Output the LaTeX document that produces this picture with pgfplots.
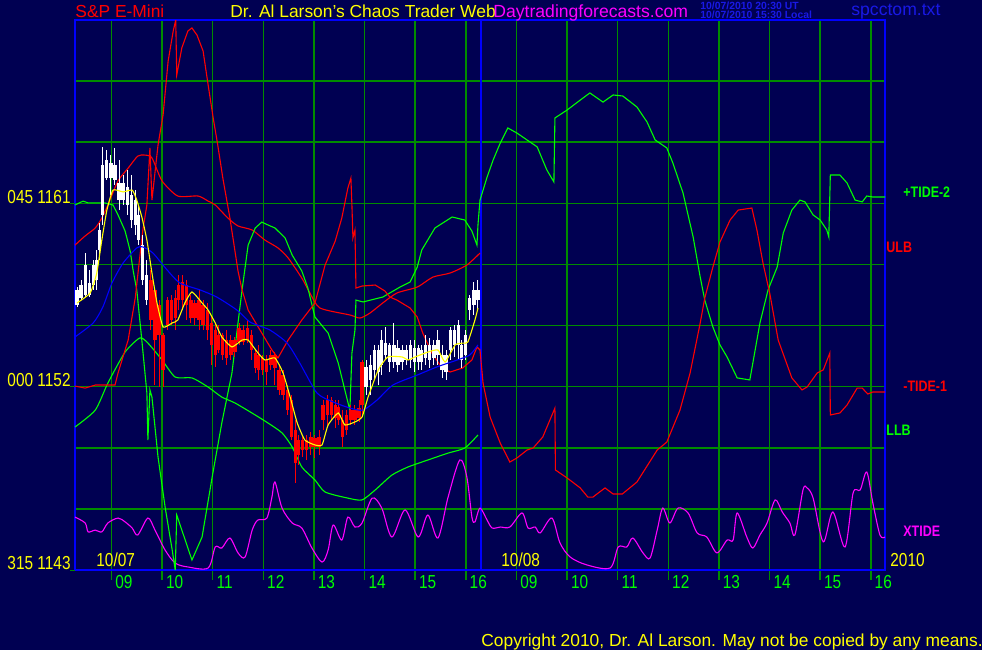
\documentclass[border=0pt]{standalone}
\usepackage{pgfplots}
\pgfplotsset{compat=1.18}
\usepackage{pgfplotstable}
\usepackage{fontspec}
\setmainfont{Liberation Sans}
\newfontfamily\cond[FakeStretch=0.82]{Liberation Sans}

\definecolor{bg}{RGB}{0,0,82}
\definecolor{gridg}{RGB}{0,140,0}
\definecolor{lime}{RGB}{0,255,0}
\definecolor{bblue}{RGB}{0,0,255}
\definecolor{tblue}{RGB}{25,25,230}
\definecolor{mag}{RGB}{255,0,255}
\definecolor{yel}{RGB}{255,255,0}
\definecolor{rd}{RGB}{255,0,0}

% x = hours since session start (day 1: 0-8, day 2: 8-16), y = price
\pgfplotstableread{
x lo hi blo bhi
0.04 1155.91 1156.89 1156.01 1156.75
0.12 1156.26 1157.24 1156.35 1156.99
0.20 1156.40 1158.56 1156.50 1157.97
0.28 1156.40 1157.73 1156.50 1157.09
0.36 1156.75 1158.22 1156.99 1157.97
0.43 1156.75 1158.71 1157.24 1158.22
0.49 1158.22 1160.04 1158.71 1159.69
0.55 1159.94 1163.77 1160.43 1162.88
0.63 1162.15 1163.62 1162.24 1163.13
0.71 1161.41 1163.37 1162.24 1162.98
0.79 1161.90 1163.72 1162.15 1162.88
0.87 1160.67 1163.13 1161.16 1162.00
0.95 1160.92 1162.39 1161.16 1162.00
1.03 1160.43 1162.64 1160.92 1161.80
1.11 1159.79 1162.39 1160.18 1161.41
1.19 1159.45 1161.66 1159.94 1161.16
1.26 1158.96 1160.92 1159.20 1160.43
1.34 1156.99 1159.45 1157.24 1158.96
1.42 1156.01 1158.22 1156.26 1157.48
5.75 1151.59 1153.31 1151.98 1152.97
5.83 1151.59 1153.55 1152.33 1153.06
5.91 1152.33 1154.05 1152.82 1153.80
5.99 1152.08 1154.05 1152.72 1153.80
6.06 1152.57 1154.78 1153.06 1154.29
6.14 1153.31 1154.93 1153.55 1154.14
6.22 1152.72 1154.14 1153.21 1154.05
6.30 1152.92 1155.13 1153.21 1154.05
6.38 1152.72 1154.29 1153.06 1153.90
6.46 1152.82 1154.05 1153.21 1153.80
6.54 1153.06 1154.05 1153.31 1153.80
6.62 1152.92 1154.29 1153.31 1154.05
6.70 1152.72 1154.29 1153.21 1153.90
6.78 1152.82 1154.05 1153.21 1153.90
6.85 1152.82 1154.05 1153.21 1153.80
6.93 1153.06 1154.54 1153.41 1154.05
7.01 1152.92 1154.39 1153.31 1154.05
7.09 1153.06 1154.29 1153.41 1154.05
7.17 1153.06 1154.78 1153.55 1154.29
7.25 1152.43 1154.05 1152.82 1153.55
7.33 1152.33 1153.80 1152.72 1153.55
7.41 1153.31 1154.93 1153.80 1154.78
7.49 1153.46 1155.03 1154.05 1154.78
7.57 1153.31 1155.27 1154.05 1155.03
7.64 1152.92 1154.29 1153.31 1154.05
7.72 1153.31 1154.78 1153.55 1154.54
7.80 1155.27 1156.50 1155.76 1156.35
7.88 1155.52 1157.14 1156.01 1156.75
7.96 1155.76 1157.24 1156.26 1156.75
}\wbars

\pgfplotstableread{
x lo hi blo bhi
1.50 1154.78 1157.73 1155.27 1157.24
1.58 1152.08 1156.75 1154.29 1156.75
1.66 1151.98 1156.26 1154.54 1156.01
1.74 1151.98 1154.64 1152.82 1154.54
1.82 1154.78 1156.40 1155.03 1156.26
1.90 1155.03 1156.50 1155.27 1156.26
1.98 1154.78 1156.75 1155.37 1156.35
2.05 1155.76 1157.48 1156.26 1156.99
2.13 1155.76 1157.48 1156.26 1157.14
2.21 1155.27 1157.24 1156.01 1156.99
2.29 1155.13 1156.50 1155.37 1156.26
2.37 1155.03 1156.26 1155.37 1156.11
2.45 1154.78 1156.75 1155.27 1156.26
2.53 1154.78 1156.26 1155.03 1156.01
2.61 1154.29 1156.11 1154.78 1155.76
2.69 1153.06 1155.52 1154.05 1155.13
2.77 1152.97 1155.13 1153.55 1154.78
2.84 1153.65 1155.03 1153.80 1154.54
2.92 1153.31 1154.64 1153.55 1154.54
3.00 1153.06 1154.78 1153.41 1154.29
3.08 1153.31 1154.54 1153.55 1154.29
3.16 1153.46 1154.44 1153.70 1154.29
3.24 1154.05 1155.13 1154.19 1154.88
3.32 1154.05 1155.03 1154.19 1154.78
3.40 1154.14 1155.27 1154.29 1154.88
3.48 1153.31 1154.78 1153.80 1154.54
3.56 1152.67 1153.80 1152.92 1153.65
3.63 1152.33 1154.05 1152.82 1153.55
3.71 1152.57 1153.55 1152.82 1153.41
3.79 1152.08 1153.55 1152.72 1153.31
3.87 1152.82 1153.80 1153.06 1153.55
3.95 1152.08 1153.70 1152.92 1153.55
4.03 1151.59 1153.06 1151.84 1152.82
4.11 1151.35 1152.82 1151.59 1152.57
4.19 1150.61 1152.08 1150.86 1151.84
4.27 1149.38 1151.59 1149.53 1151.35
4.35 1147.27 1150.36 1148.25 1149.87
4.42 1148.16 1149.63 1148.65 1149.38
4.50 1148.55 1149.53 1148.89 1149.38
4.58 1148.40 1149.63 1148.89 1149.38
4.66 1148.65 1149.78 1149.04 1149.53
4.74 1148.50 1149.63 1149.04 1149.48
4.82 1148.65 1149.87 1149.04 1149.53
4.90 1149.87 1151.35 1150.36 1151.10
4.98 1150.12 1151.59 1150.61 1151.35
5.06 1150.36 1151.49 1150.61 1151.35
5.14 1149.97 1151.35 1150.46 1151.10
5.21 1150.12 1151.35 1150.36 1151.00
5.29 1149.04 1150.86 1149.53 1150.36
5.37 1149.63 1150.86 1149.87 1150.61
5.45 1150.12 1151.10 1150.36 1150.86
5.53 1150.12 1151.10 1150.36 1150.86
5.61 1150.27 1151.35 1150.46 1150.95
5.67 1150.51 1153.31 1151.10 1153.21
}\rbars

\begin{document}
\begin{tikzpicture}
\begin{scope}[x=0.5pt,y=-0.5pt]
  \fill[bg] (0,0) rectangle (982,650);
\end{scope}

\begin{axis}[
  at={(37.5pt,-285pt)}, anchor=south west,
  scale only axis, width=405pt, height=275pt,
  xmin=0, xmax=16, ymin=1143, ymax=1170,
  axis background/.style={fill=bg},
  axis line style={draw=bblue, line width=1pt},
  xtick={0.72,1.72,2.72,3.72,4.72,5.72,6.72,7.72,8.72,9.72,10.72,11.72,12.72,13.72,14.72,15.72},
  ytick={1146,1149,...,1167},
  xticklabels={}, yticklabels={},
  tick pos=left, tick align=outside, major tick length=5pt,
  xtick style={draw=gridg, line width=0.75pt},
  ytick style={draw=none},
  xmajorgrids=true, ymajorgrids=true,
  grid style={draw=gridg, line width=0.75pt},
  major grid style={draw=gridg, line width=0.75pt},
]
\draw[bblue, line width=1pt] (axis cs:8.02,1143) -- (axis cs:8.02,1170);

% XTIDE
\addplot[mag, line width=0.55pt, smooth, tension=0.5] coordinates {
(0,1145.60) (0.20,1145.31) (0.26,1144.87) (0.40,1144.96) (0.53,1144.87) (0.65,1145.31)
(0.85,1145.55) (0.99,1145.36) (1.13,1145.06) (1.24,1144.72) (1.44,1145.55) (1.58,1144.96)
(1.78,1143.98) (1.98,1143.34) (2.23,1143.15) (2.63,1143.10) (2.77,1144.13) (2.90,1144.08)
(3.06,1144.57) (3.22,1143.84) (3.36,1143.64) (3.50,1144.96) (3.61,1145.45) (3.79,1145.55)
(3.89,1146.58) (3.95,1147.32) (4.09,1146.04) (4.29,1145.31) (4.48,1145.06) (4.68,1144.08)
(4.88,1143.39) (5.00,1143.98) (5.10,1145.21) (5.27,1144.47) (5.39,1145.60) (5.53,1145.11)
(5.67,1145.31) (5.87,1146.53) (6.06,1146.04) (6.26,1144.62) (6.52,1145.95) (6.78,1144.62)
(6.97,1145.70) (7.17,1144.57) (7.37,1146.58) (7.60,1148.40) (7.74,1147.57) (7.84,1145.60)
(7.90,1145.36) (8.00,1146.04) (8.14,1145.45) (8.24,1145.06) (8.40,1145.11) (8.59,1145.11)
(8.83,1145.80) (8.95,1145.06) (9.09,1145.11) (9.19,1144.82) (9.42,1145.55) (9.58,1144.33)
(9.78,1143.64) (10.11,1143.25) (10.57,1143.10) (10.73,1144.13) (10.90,1144.13) (11.02,1144.57)
(11.22,1143.84) (11.36,1143.59) (11.50,1144.96) (11.61,1146.04) (11.75,1145.31) (11.91,1146.04)
(12.11,1145.80) (12.29,1144.82) (12.48,1144.62) (12.68,1143.84) (12.88,1144.47) (13.00,1144.47)
(13.08,1145.80) (13.27,1144.62) (13.39,1144.08) (13.53,1144.72) (13.67,1145.31) (13.83,1146.44)
(13.97,1145.85) (14.12,1145.31) (14.22,1144.72) (14.38,1146.93) (14.46,1147.03) (14.58,1146.53)
(14.78,1144.38) (14.97,1145.85) (15.21,1144.13) (15.37,1146.78) (15.51,1146.93) (15.64,1147.81)
(15.76,1146.29) (15.90,1144.72) (16.00,1144.62)};

% LLB
\addplot[lime, line width=0.55pt, smooth, tension=0.4] coordinates {
(0,1150.02) (0.40,1150.85) (0.65,1152.18) (0.99,1153.70) (1.28,1154.39) (1.44,1154.14)
(1.72,1153.31) (1.98,1152.47) (2.31,1152.43) (2.63,1151.98) (2.90,1151.49) (3.16,1151.20)
(3.56,1150.61) (3.81,1150.22) (4.09,1149.73) (4.29,1149.04) (4.48,1148.06) (4.74,1147.42)
(4.94,1146.83) (5.39,1146.53) (5.67,1146.44) (5.93,1146.93) (6.26,1147.66) (6.58,1148.06)
(6.97,1148.40) (7.37,1148.74) (7.70,1148.99) (7.96,1149.63)};

% ULB
\addplot[rd, line width=0.55pt, smooth, tension=0.4] coordinates {
(0,1158.95) (0.20,1159.40) (0.40,1159.79) (0.53,1160.28) (0.65,1160.92) (0.85,1162.10)
(1.05,1162.73) (1.24,1163.32) (1.38,1163.37) (1.52,1163.23) (1.72,1162.10) (2.03,1161.36)
(2.43,1161.36) (2.63,1161.11) (2.77,1160.92) (3.02,1160.28) (3.22,1159.89) (3.50,1159.69)
(3.75,1159.20) (4.01,1158.81) (4.21,1158.32) (4.48,1157.33) (4.64,1156.60) (4.84,1155.86)
(5.43,1155.52) (5.63,1155.37) (5.83,1155.62) (6.08,1156.11) (6.36,1156.60) (6.76,1156.89)
(7.07,1157.38) (7.41,1157.58) (7.74,1157.97) (8.00,1158.56)};

% +TIDE-2
\addplot[lime, line width=0.55pt] coordinates {
(0,1160.92) (0.16,1161.11) (0.26,1161.02) (0.59,1161.02) (0.75,1160.92) (0.85,1160.43)
(0.99,1159.64) (1.09,1158.66) (1.15,1157.68) (1.22,1156.75) (1.32,1154.29) (1.42,1151.69)
(1.44,1149.38) (1.48,1151.84) (1.52,1151.49) (1.64,1148.55) (1.78,1146.09) (1.92,1143.98)
(1.98,1143.00) (2.01,1145.70) (2.31,1143.49) (2.51,1144.62) (2.71,1147.57) (2.90,1150.22)
(3.10,1152.67) (3.22,1155.13) (3.30,1156.75) (3.42,1158.95) (3.56,1159.79) (3.69,1160.08)
(3.81,1159.94) (3.95,1159.79) (4.15,1159.30) (4.29,1158.46) (4.48,1157.68) (4.60,1156.84)
(4.74,1155.42) (5.00,1154.63) (5.20,1153.16) (5.33,1151.84) (5.43,1150.85) (5.47,1153.65)
(5.53,1154.78) (5.55,1156.25) (5.69,1156.16) (6.08,1156.40) (6.42,1156.89) (6.62,1157.14)
(6.76,1157.87) (6.85,1158.71) (7.11,1159.79) (7.45,1160.33) (7.70,1160.18) (7.84,1159.64)
(7.94,1158.95) (7.96,1159.94) (8.00,1161.16) (8.14,1162.29) (8.26,1163.13) (8.40,1163.96)
(8.55,1164.70) (8.73,1164.45) (8.93,1164.11) (9.13,1163.77) (9.32,1162.64) (9.46,1162.05)
(9.48,1165.19) (9.72,1165.58) (9.98,1166.07) (10.17,1166.42) (10.43,1165.97) (10.63,1166.32)
(10.82,1166.27) (11.10,1165.73) (11.30,1164.99) (11.46,1164.11) (11.69,1163.72) (11.81,1162.98)
(12.01,1161.51) (12.21,1159.35) (12.35,1157.38) (12.44,1156.25) (12.60,1154.93) (12.74,1154.05)
(12.88,1153.46) (13.08,1152.43) (13.33,1152.33) (13.53,1155.13) (13.69,1156.75) (13.87,1157.87)
(13.99,1159.54) (14.16,1160.67) (14.32,1161.16) (14.42,1161.07) (14.58,1160.43) (14.72,1160.18)
(14.85,1159.69) (14.89,1159.35) (14.92,1162.39) (15.11,1162.39) (15.25,1162.00) (15.41,1161.16)
(15.55,1161.07) (15.64,1161.36) (15.76,1161.31) (16.00,1161.31)};

% -TIDE-1
\addplot[rd, line width=0.55pt] coordinates {
(0,1152.03) (0.20,1151.93) (0.40,1152.08) (0.79,1152.08) (0.85,1152.67) (1.05,1154.29)
(1.19,1156.35) (1.28,1158.37) (1.34,1159.69) (1.42,1160.92) (1.48,1163.72) (1.52,1161.16)
(1.64,1163.86) (1.74,1165.34) (1.84,1167.99) (1.94,1169.46) (1.99,1170) (2.01,1167.30)
(2.11,1168.63) (2.23,1169.46) (2.31,1169.61) (2.41,1169.26) (2.53,1168.48) (2.63,1166.81)
(2.73,1165.19) (2.82,1163.86) (2.92,1162.24) (3.06,1160.28) (3.22,1157.68) (3.30,1156.75)
(3.42,1155.76) (3.69,1154.63) (3.89,1153.80) (4.01,1153.41) (4.21,1154.29) (4.48,1155.27)
(4.74,1156.11) (4.94,1157.97) (5.14,1159.15) (5.27,1160.28) (5.39,1161.75) (5.45,1162.24)
(5.47,1160.92) (5.49,1159.30) (5.53,1159.69) (5.55,1156.84) (5.67,1156.94) (5.93,1156.99)
(6.12,1156.70) (6.22,1156.40) (6.36,1156.25) (6.62,1155.86) (6.76,1155.42) (6.87,1154.63)
(7.05,1153.65) (7.25,1152.92) (7.41,1152.72) (7.66,1152.92) (7.84,1153.31) (7.94,1153.95)
(8.00,1153.80) (8.06,1152.18) (8.20,1150.51) (8.40,1149.23) (8.59,1148.30) (8.73,1148.50)
(8.93,1148.89) (9.05,1148.99) (9.24,1149.53) (9.48,1150.95) (9.49,1147.91) (9.72,1147.52)
(9.98,1147.03) (10.13,1146.58) (10.23,1146.58) (10.47,1147.03) (10.63,1146.73) (10.81,1146.73)
(11.10,1147.32) (11.50,1148.89) (11.69,1149.28) (11.95,1150.85) (12.15,1152.67) (12.35,1155.13)
(12.44,1156.35) (12.60,1157.87) (12.74,1159.10) (12.94,1160.18) (13.10,1160.67) (13.37,1160.77)
(13.47,1159.69) (13.59,1158.07) (13.73,1156.50) (13.89,1154.29) (14.16,1152.43) (14.36,1151.84)
(14.46,1151.98) (14.66,1152.67) (14.78,1152.82) (14.91,1153.65) (14.92,1150.61) (15.11,1150.71)
(15.25,1151.10) (15.45,1151.93) (15.55,1151.93) (15.66,1151.64) (15.76,1151.74) (16.00,1151.74)};

% price bars: wicks then bodies
\addplot[draw=none, mark=none, error bars/.cd, y dir=plus, y explicit, error mark=none,
  error bar style={draw=white, line width=0.5pt}]
  table[x=x, y=lo, y error plus expr=\thisrow{hi}-\thisrow{lo}] {\wbars};
\addplot[draw=none, mark=none, error bars/.cd, y dir=plus, y explicit, error mark=none,
  error bar style={draw=white, line width=1.6pt}]
  table[x=x, y=blo, y error plus expr=\thisrow{bhi}-\thisrow{blo}] {\wbars};
\addplot[draw=none, mark=none, error bars/.cd, y dir=plus, y explicit, error mark=none,
  error bar style={draw=rd, line width=0.5pt}]
  table[x=x, y=lo, y error plus expr=\thisrow{hi}-\thisrow{lo}] {\rbars};
\addplot[draw=none, mark=none, error bars/.cd, y dir=plus, y explicit, error mark=none,
  error bar style={draw=rd, line width=1.6pt}]
  table[x=x, y=blo, y error plus expr=\thisrow{bhi}-\thisrow{blo}] {\rbars};

% moving averages
\addplot[bblue, line width=0.55pt, smooth, tension=0.4] coordinates {
(0,1154.44) (0.36,1155.13) (0.55,1155.91) (0.73,1157.09) (0.95,1158.07) (1.22,1158.81)
(1.34,1158.86) (1.54,1158.56) (1.82,1157.73) (2.07,1157.09) (2.47,1156.75) (2.80,1156.40)
(3.20,1155.76) (3.46,1155.17) (3.85,1154.78) (4.19,1154.14) (4.44,1153.16) (4.78,1151.69)
(5.10,1151.25) (5.43,1150.95) (5.69,1150.85) (5.97,1151.35) (6.28,1152.08) (6.76,1152.57)
(7.15,1152.97) (7.55,1153.31) (7.80,1153.56) (7.96,1154.05)};

\addplot[yel, line width=0.55pt, smooth, tension=0.3] coordinates {
(0.04,1156.11) (0.30,1156.60) (0.43,1157.58) (0.53,1159.20) (0.63,1160.67) (0.75,1161.65)
(0.95,1161.56) (1.13,1161.65) (1.22,1161.16) (1.32,1160.33) (1.42,1159.20) (1.52,1157.58)
(1.62,1156.11) (1.74,1154.93) (1.92,1155.13) (2.03,1155.27) (2.17,1156.11) (2.31,1156.65)
(2.51,1156.11) (2.63,1155.76) (2.77,1155.13) (2.90,1154.44) (3.10,1153.95) (3.30,1154.29)
(3.42,1154.29) (3.60,1153.70) (3.75,1153.31) (3.95,1153.41) (4.11,1152.67) (4.25,1151.49)
(4.39,1150.22) (4.54,1149.38) (4.74,1149.14) (4.88,1149.14) (5.00,1150.12) (5.20,1150.71)
(5.33,1150.12) (5.53,1150.27) (5.67,1150.51) (5.79,1151.49) (5.99,1152.82) (6.18,1153.46)
(6.46,1153.46) (6.58,1153.31) (6.72,1153.46) (6.97,1153.70) (7.17,1153.80) (7.31,1153.21)
(7.51,1154.05) (7.66,1154.14) (7.76,1154.19) (7.90,1155.27) (7.96,1155.86)};
\end{axis}

\begin{scope}[x=0.5pt,y=-0.5pt]
  % title line
  \node[anchor=base west, inner sep=0, text=rd, font=\fontsize{8.7}{10}\selectfont] at (75,17) {S\&P E-Mini};
  \node[anchor=base west, inner sep=0, text=yel, font=\fontsize{8.7}{10}\selectfont] at (230,17) {Dr. Al Larson's Chaos Trader Web};
  \node[anchor=base west, inner sep=0, text=mag, font=\fontsize{8.8}{10}\selectfont] at (493,17) {Daytradingforecasts.com};
  \node[anchor=base west, inner sep=0, text=tblue, font=\bfseries\fontsize{5.2}{6}\selectfont] at (700,9.5) {10/07/2010 20:30 UT};
  \node[anchor=base west, inner sep=0, text=tblue, font=\bfseries\fontsize{5.2}{6}\selectfont] at (700,18) {10/07/2010 15:30 Local};
  \node[anchor=base west, inner sep=0, text=tblue, font=\fontsize{8.8}{10}\selectfont] at (851,15.5) {spcctom.txt};
  % price scale on the left
  \foreach \yy/\t in {203/045 1161, 386/000 1152, 569/315 1143} {
    \node[anchor=base east, inner sep=0, text=yel, font=\cond\fontsize{9.4}{11}\selectfont] at (71,\yy) {\t};
  }
  \foreach \yy in {203,386,570} \draw[gridg, line width=0.5pt] (70,\yy) -- (75,\yy);
  % hour labels
  \foreach \p/\l in {111.5/09,162.1/10,212.7/11,263.3/12,314/13,364.6/14,415.2/15,465.8/16,
                     516.5/09,567.1/10,617.7/11,668.3/12,719/13,769.6/14,820.2/15,870.8/16} {
    \node[anchor=base west, inner sep=0, text=lime, font=\cond\fontsize{9.4}{11}\selectfont] at (\p+3.5,588) {\l};
  }
  \node[anchor=base west, inner sep=0, text=yel, font=\cond\fontsize{9.4}{11}\selectfont] at (96,566) {10/07};
  \node[anchor=base west, inner sep=0, text=yel, font=\cond\fontsize{9.4}{11}\selectfont] at (501,566) {10/08};
  \node[anchor=base west, inner sep=0, text=yel, font=\cond\fontsize{9.4}{11}\selectfont] at (890,566) {2010};
  % curve names on the right
  \node[anchor=base west, inner sep=0, text=lime, font=\cond\bfseries\fontsize{7.6}{9}\selectfont] at (903,197) {+TIDE-2};
  \node[anchor=base west, inner sep=0, text=rd, font=\cond\bfseries\fontsize{7.6}{9}\selectfont] at (886,252) {ULB};
  \node[anchor=base west, inner sep=0, text=rd, font=\cond\bfseries\fontsize{7.6}{9}\selectfont] at (903,391) {-TIDE-1};
  \node[anchor=base west, inner sep=0, text=lime, font=\cond\bfseries\fontsize{7.6}{9}\selectfont] at (886,435) {LLB};
  \node[anchor=base west, inner sep=0, text=mag, font=\cond\bfseries\fontsize{7.6}{9}\selectfont] at (903,536) {XTIDE};
  % footer
  \node[anchor=base west, inner sep=0, text=yel, font=\fontsize{8.7}{10}\selectfont] at (481,646) {Copyright 2010, Dr. Al Larson. May not be copied by any means.};
\end{scope}

\pgfresetboundingbox
\begin{scope}[x=0.5pt,y=-0.5pt]
  \path (0,0) rectangle (982,650);
\end{scope}
\end{tikzpicture}
\end{document}
